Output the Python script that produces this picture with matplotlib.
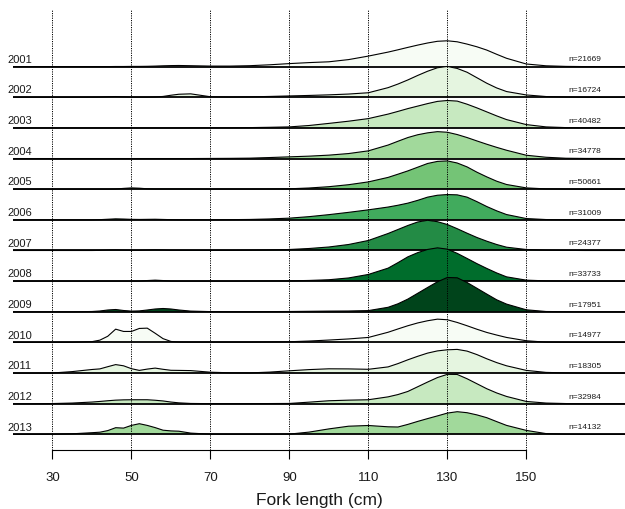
import numpy as np
import matplotlib
matplotlib.use('Agg')
import matplotlib.pyplot as plt

plt.rcParams['font.family'] = ['Liberation Sans', 'DejaVu Sans']

# fork length grid (cm)
length = [20, 25, 30, 35, 40, 42, 44, 46, 48, 50, 52, 54, 56, 58, 60, 62,
          65, 70, 75, 80, 85, 90, 95, 100, 105, 110, 115,
          117.5, 120, 122.5, 125, 127.5, 130, 132.5, 135, 137.5, 140, 142.5, 145,
          150, 155, 160, 165, 175]

years = ['2001', '2002', '2003', '2004', '2005', '2006', '2007',
         '2008', '2009', '2010', '2011', '2012', '2013']
counts = [21669, 16724, 40482, 34778, 50661, 31009, 24377,
          33733, 17951, 14977, 18305, 32984, 14132]

# relative density, one list per year
d2001 = [0, 0, 0, 0, 0, 0, 0, 0.1, 0.1, 0.2, 0.2, 0.3, 0.5, 0.8, 1.0, 1.1,
         0.9, 0.5, 0.5, 0.9, 1.8, 3.0, 4.0, 4.8, 7.0, 10.5, 14.5,
         16.8, 19.2, 21.5, 23.6, 25.3, 25.8, 24.8, 22.5, 19.8, 16.5, 12.3, 8.3,
         2.6, 0.8, 0.2, 0, 0]
d2002 = [0, 0, 0, 0, 0.1, 0.2, 0.5, 0.7, 0.4, 0.1, 0.1, 0.1, 0.3, 0.8, 2.0, 3.0,
         3.4, 0.5, 0.2, 0.4, 0.8, 1.3, 1.8, 2.4, 3.2, 4.5, 9.6,
         13.2, 17.3, 21.8, 26.0, 29.5, 30.8, 28.8, 25.0, 19.5, 14.0, 9.3, 5.7,
         2.3, 0.7, 0.2, 0, 0]
d2003 = [0, 0, 0, 0, 0, 0, 0, 0, 0, 0, 0, 0, 0, 0, 0, 0,
         0.1, 0.1, 0.1, 0.3, 0.6, 1.0, 2.4, 4.5, 6.7, 9.3, 13.8,
         16.5, 19.3, 21.8, 24.3, 26.5, 27.4, 26.8, 23.7, 20.0, 16.0, 12.0, 8.3,
         3.3, 1.0, 0.3, 0.1, 0]
d2004 = [0, 0, 0, 0, 0, 0, 0, 0, 0, 0, 0, 0, 0, 0, 0, 0,
         0, 0.1, 0.2, 0.4, 1.0, 1.7, 2.4, 3.4, 5.0, 7.7, 13.5,
         17.3, 21.0, 23.8, 25.7, 26.9, 26.3, 24.0, 21.0, 17.6, 14.3, 11.2, 8.3,
         3.3, 1.3, 0.3, 0.1, 0]
d2005 = [0, 0, 0, 0, 0, 0, 0, 0.2, 0.8, 1.3, 1.0, 0.4, 0.2, 0.2, 0.2, 0.2,
         0.2, 0.1, 0.1, 0.1, 0.2, 0.4, 1.2, 2.5, 4.5, 7.3, 11.8,
         15.0, 18.3, 22.0, 25.7, 27.8, 28.3, 26.2, 22.3, 17.0, 12.3, 8.0, 4.7,
         1.3, 0.3, 0.1, 0, 0]
d2006 = [0, 0, 0, 0, 0, 0.2, 0.6, 1.0, 0.8, 0.5, 0.4, 0.5, 0.6, 0.4, 0.2, 0.1,
         0.1, 0.1, 0.2, 0.4, 0.9, 1.7, 3.2, 5.2, 7.5, 10.0, 12.8,
         14.6, 16.7, 19.5, 22.7, 24.6, 25.3, 25.0, 22.7, 18.2, 13.3, 9.0, 5.3,
         1.3, 0.3, 0.1, 0, 0]
d2007 = [0, 0, 0, 0, 0, 0.1, 0.4, 0.5, 0.3, 0.2, 0.2, 0.4, 0.6, 0.4, 0.1, 0.1,
         0.1, 0.1, 0.1, 0.3, 0.6, 1.0, 2.0, 3.5, 6.0, 10.0, 17.0,
         21.0, 25.0, 28.5, 30.2, 28.8, 26.0, 21.8, 17.3, 13.0, 9.3, 6.0, 3.3,
         1.0, 0.3, 0.1, 0, 0]
d2008 = [0, 0, 0, 0, 0, 0, 0, 0, 0, 0, 0.1, 0.6, 1.0, 0.6, 0.1, 0,
         0, 0, 0, 0.1, 0.2, 0.3, 0.7, 1.4, 3.2, 6.7, 13.0,
         18.5, 24.3, 28.5, 31.7, 33.3, 32.0, 27.8, 22.7, 17.5, 12.7, 8.2, 4.3,
         1.0, 0.3, 0.1, 0, 0]
d2009 = [0, 0, 0, 0, 0.3, 0.8, 1.8, 2.3, 1.3, 0.7, 0.9, 1.8, 2.8, 3.3, 2.8, 1.8,
         0.7, 0.2, 0.1, 0.1, 0.2, 0.3, 0.5, 0.7, 0.8, 1.2, 4.5,
         8.0, 12.7, 18.5, 24.3, 30.0, 34.3, 34.0, 29.3, 23.5, 17.7, 12.0, 7.7,
         2.0, 0.3, 0.1, 0, 0]
d2010 = [0, 0, 0, 0.1, 0.8, 2.3, 6.2, 13.3, 11.0, 11.0, 14.0, 14.3, 9.2, 3.8, 1.0, 0.4,
         0.3, 0.3, 0.3, 0.3, 0.5, 0.7, 1.4, 2.4, 3.5, 5.0, 10.2,
         13.5, 16.7, 19.5, 21.7, 23.3, 22.7, 20.0, 16.7, 13.2, 10.0, 7.4, 5.0,
         1.7, 0.3, 0.1, 0, 0]
d2011 = [0, 0, 0.1, 1.5, 3.6, 4.2, 6.4, 8.5, 7.3, 4.4, 2.7, 4.0, 5.0, 3.8, 2.8, 2.7,
         2.5, 0.9, 0.3, 0.2, 1.0, 2.3, 3.5, 4.3, 4.2, 3.8, 6.2,
         9.5, 13.3, 16.8, 20.0, 22.2, 23.3, 23.7, 22.0, 18.5, 14.3, 10.5, 7.3,
         2.7, 0.7, 0.2, 0, 0]
d2012 = [0, 0, 0.2, 0.7, 1.7, 2.3, 3.0, 3.6, 3.9, 4.0, 4.0, 4.0, 3.5, 2.8, 1.7, 0.9,
         0.3, 0.1, 0.1, 0.1, 0.2, 0.3, 1.6, 3.0, 3.6, 4.0, 6.9,
         9.2, 12.3, 17.0, 21.7, 26.2, 29.4, 29.3, 25.0, 20.0, 15.0, 10.8, 7.3,
         2.3, 0.7, 0.2, 0, 0]
d2013 = [0, 0, 0.1, 0.6, 1.7, 2.2, 3.8, 6.7, 6.3, 9.0, 10.7, 9.0, 6.8, 4.2, 3.5, 3.2,
         1.3, 0.2, 0.1, 0.1, 0.1, 0.3, 2.3, 5.5, 8.2, 8.9, 7.6,
         7.4, 10.0, 13.0, 15.8, 18.5, 21.3, 22.7, 21.7, 19.5, 16.7, 12.8, 9.0,
         4.0, 0.8, 0.2, 0, 0]

dens = [d2001, d2002, d2003, d2004, d2005, d2006, d2007,
        d2008, d2009, d2010, d2011, d2012, d2013]

ticks = [30, 50, 70, 90, 110, 130, 150]

greens = ['#f7fcf5', '#e5f5e0', '#c7e9c0', '#a1d99b', '#74c476',
          '#41ab5d', '#238b45', '#006d2c', '#00441b']

scale = 1 / 30.65   # density units -> row spacing

fig = plt.figure(figsize=(6.25, 5.09), dpi=100)
ax = fig.add_axes([13 / 625, 59 / 509, 612 / 625, 441 / 509])

x = np.array(length)
nrow = len(years)
for i, (yr, n, d) in enumerate(zip(years, counts, dens)):
    base = nrow - 1 - i
    top = base + np.array(d) * scale
    z = 2 + i
    ax.fill_between(x, base, top, facecolor=greens[i % 9], edgecolor='none', zorder=z)
    ax.plot(x, top, color='black', lw=0.8, zorder=z)
    ax.axhline(base, color='black', lw=1.3, zorder=z)
    ax.text(18.7, base + 0.22, yr, fontsize=8, color='#1a1a1a', ha='left', va='center', clip_on=False)
    ax.text(160.6, base + 0.22, 'n=%d' % n, fontsize=6, color='#1a1a1a', ha='left', va='center')

for t in ticks:
    ax.axvline(t, color='black', lw=0.7, linestyle=(0, (1.2, 1.2)), zorder=30)

ax.set_xlim(20, 175)
ax.set_ylim(-0.509, 13.879)
for s in ['top', 'right', 'left']:
    ax.spines[s].set_visible(False)
ax.spines['bottom'].set_bounds(30, 150)
ax.spines['bottom'].set_linewidth(0.8)
ax.set_yticks([])
ax.set_xticks(ticks)
ax.set_xticklabels([str(t) for t in ticks], fontsize=9.5, color='#1a1a1a')
ax.tick_params(axis='x', direction='out', length=6.5, width=0.8, pad=9)
ax.set_xlabel('Fork length (cm)', fontsize=12.5, labelpad=7, color='#1a1a1a')

fig.savefig('out.png', dpi=100)
